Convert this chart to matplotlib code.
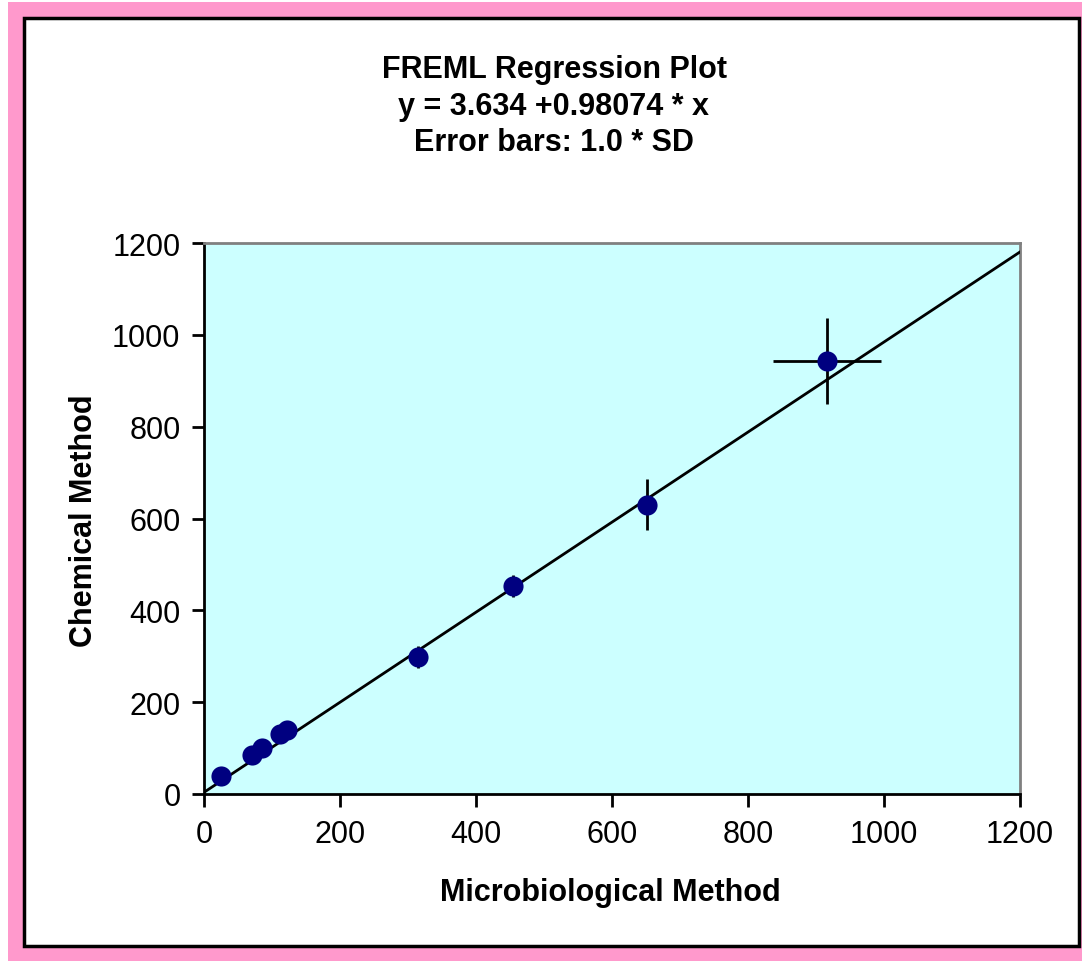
import matplotlib
matplotlib.use("Agg")
import matplotlib.pyplot as plt
from matplotlib.patches import Rectangle
import numpy as np

plt.rcParams['font.family'] = ['Liberation Sans', 'DejaVu Sans']

# Data
micro = [25, 70, 85, 112, 122, 315, 454, 652, 916]
chem = [39, 85, 100, 131, 140, 298, 453, 630, 943]
micro_sd = [4, 4, 4, 4, 4, 8, 10, 12, 79]
chem_sd = [4, 4, 4, 4, 4, 24, 24, 56, 93]
intercept = 3.634
slope = 0.98074
ticks = [0, 200, 400, 600, 800, 1000, 1200]
title_lines = ["FREML Regression Plot", "y = 3.634 +0.98074 * x", "Error bars: 1.0 * SD"]
x_label = "Microbiological Method"
y_label = "Chemical Method"

W, H = 1082, 962
fig = plt.figure(figsize=(W / 100, H / 100), dpi=100, facecolor='white')

def fx(px):
    return px / W

def fy(py):
    return 1 - py / H

# Pink frame
fig.patches.append(Rectangle((fx(8), 0), 1 - fx(8), fy(3), transform=fig.transFigure,
                             facecolor='#FF99CC', edgecolor='none', zorder=0))
# White bordered box
fig.patches.append(Rectangle((fx(24), fy(947)), fx(1079) - fx(24), fy(19) - fy(947),
                             transform=fig.transFigure, facecolor='white',
                             edgecolor='black', linewidth=2.5, zorder=1))

ax = fig.add_axes([fx(204), fy(795), fx(1020) - fx(204), fy(244) - fy(795)])
ax.set_facecolor('#CCFFFF')
ax.set_zorder(2)

xl = np.array([0, 1200])
ax.plot(xl, intercept + slope * xl, color='black', linewidth=2, zorder=4)
ax.errorbar(micro, chem, xerr=micro_sd, yerr=chem_sd, fmt='none', ecolor='black',
            elinewidth=2, capsize=0, zorder=3)
ax.plot(micro, chem, 'o', color='#000080', markersize=14.5, markeredgewidth=0, zorder=5)

ax.set_xlim(0, 1200)
ax.set_ylim(0, 1200)
ax.set_xticks(ticks)
ax.set_yticks(ticks)
ax.tick_params(axis='both', direction='out', length=9, width=2, labelsize=22,
               colors='black')
ax.tick_params(axis='x', pad=9)
ax.tick_params(axis='y', pad=8)
for s in ['top', 'right']:
    ax.spines[s].set_color('#808080')
    ax.spines[s].set_linewidth(2)
for s in ['left', 'bottom']:
    ax.spines[s].set_color('black')
    ax.spines[s].set_linewidth(2)

fig.text(fx(610), fy(893), x_label, ha='center', va='center', fontsize=22,
         fontweight='bold')
fig.text(fx(84), fy(521), y_label, ha='center', va='center', fontsize=22,
         fontweight='bold', rotation=90)

for i, t in enumerate(title_lines):
    fig.text(fx(554), fy(70 + 36.5 * i), t, ha='center', va='center', fontsize=22,
             fontweight='bold')

fig.savefig("out.png", dpi=100, facecolor='white')
